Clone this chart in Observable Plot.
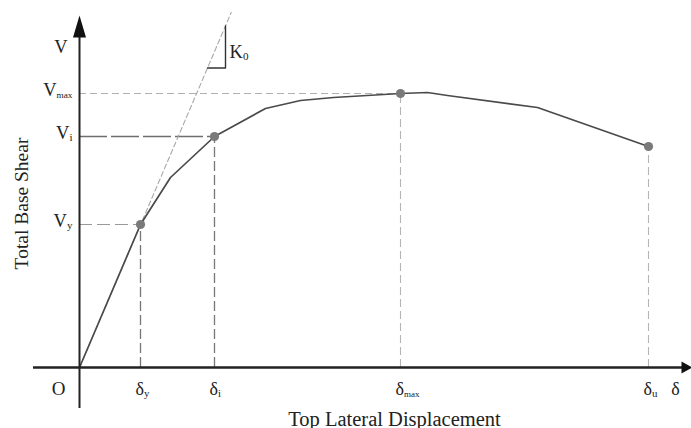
<!DOCTYPE html>
<html>
<head>
<meta charset="utf-8">
<script src="https://cdn.jsdelivr.net/npm/d3@7"></script>
<script src="https://cdn.jsdelivr.net/npm/@observablehq/plot@0.6"></script>
<style>
  html, body { margin: 0; padding: 0; background: #fff; }
  #chart svg { display: block; }
</style>
</head>
<body>
<div id="chart"></div>
<script>
// Capacity (pushover) curve: top lateral displacement vs total base shear (arbitrary units)
const delta = [0, 6.1, 9.1, 13.5, 18.6, 22.1, 25.4, 32.1, 34.8, 36.8, 45.8, 56.9];
const shear = [0, 14.3, 19.0, 23.1, 25.9, 26.7, 27.0, 27.4, 27.5, 27.2, 26.0, 22.1];

// Characteristic points
const keyNames = ["y", "i", "max", "u"];
const keyDelta = [6.1, 13.5, 32.1, 56.9];
const keyShear = [14.3, 23.1, 27.4, 22.1];

// Initial stiffness
const K0 = 2.34;

// Axis labels
const xTitle = "Top Lateral Displacement";
const yTitle = "Total Base Shear";

const curve = delta.map((d, i) => ({d, v: shear[i]}));
const keys = keyNames.map((n, i) => ({n, d: keyDelta[i], v: keyShear[i]}));
const byName = Object.fromEntries(keys.map(k => [k.n, k]));

const font = "Liberation Serif, Times New Roman, serif";
const ink = "#222";

const xMin = -4.6, xMax = 61.2, yMin = -6.1, yMax = 35.5;
const kTop = yMax;

const headShape = {
  draw(ctx, l, r) {
    ctx.moveTo(0, -l);
    ctx.lineTo(r, 0);
    ctx.lineTo(-r, 0);
    ctx.closePath();
  }
};

const chart = Plot.plot({
  width: 691,
  height: 428,
  marginLeft: 33,
  marginRight: 0,
  marginTop: 12,
  marginBottom: 0,
  x: {domain: [xMin, xMax], axis: null},
  y: {domain: [yMin, yMax], axis: null},
  style: {fontFamily: font, background: "#fff"},
  marks: [
    // horizontal guide lines
    Plot.ruleY([byName.y], {y: "v", x1: 0, x2: "d", stroke: "#9a9a9a", strokeWidth: 1.2, strokeDasharray: "13,5"}),
    Plot.ruleY([byName.max], {y: "v", x1: 0, x2: "d", stroke: "#b0b0b0", strokeWidth: 1.1, strokeDasharray: "7,4"}),
    Plot.ruleY([byName.i], {y: "v", x1: 0, x2: "d", stroke: "#6e6e6e", strokeWidth: 1.6, strokeDasharray: "28,4"}),
    // vertical guide lines
    Plot.ruleX([byName.y, byName.i], {x: "d", y1: 0, y2: "v", stroke: "#777", strokeWidth: 1.3, strokeDasharray: "10,4"}),
    Plot.ruleX([byName.max, byName.u], {x: "d", y1: 0, y2: "v", stroke: "#b5b5b5", strokeWidth: 1.1, strokeDasharray: "8,4"}),
    // initial stiffness line
    Plot.line([[0, 0], [kTop / K0, kTop]], {stroke: "#a8a8a8", strokeWidth: 1.1, strokeDasharray: "5,3"}),
    // stiffness triangle
    Plot.line([[12.8, 12.8 * K0], [14.6, 12.8 * K0], [14.6, 14.6 * K0]], {stroke: "#333", strokeWidth: 1.4}),
    // capacity curve
    Plot.line(curve, {x: "d", y: "v", stroke: "#4a4a4a", strokeWidth: 1.7}),
    Plot.dot(keys, {x: "d", y: "v", r: 4.6, fill: "#7a7a7a", stroke: "none"}),
    // axes
    Plot.ruleY([0], {x1: xMin, x2: 60.3, stroke: ink, strokeWidth: 2.4}),
    Plot.ruleX([0], {y1: -4.1, y2: 33.2, stroke: ink, strokeWidth: 2}),
    Plot.vector([{x: 0, y: 33.0}], {x: "x", y: "y", length: 22, r: 6.5, anchor: "start", shape: headShape, fill: "#111", stroke: "none"}),
    Plot.vector([{x: 60.2, y: 0}], {x: "x", y: "y", length: 11, r: 6, rotate: 90, anchor: "start", shape: headShape, fill: "#111", stroke: "none"}),
    // y-value labels
    Plot.text(keys.filter(k => k.n !== "u"), {x: -0.7, y: "v", text: k => "V_" + k.n, textAnchor: "end", lineAnchor: "bottom", fontSize: 18.5, fill: ink, dy: 2}),
    Plot.text(["V"], {x: -1.2, y: 31.7, text: d => d, textAnchor: "end", lineAnchor: "bottom", fontSize: 18.5, fill: ink, dy: 2}),
    // x-value labels
    Plot.text(keys, {x: "d", y: -2.5, text: k => "δ_" + k.n, textAnchor: "start", lineAnchor: "bottom", fontSize: 18, fill: ink, dx: -5, dy: 2}),
    Plot.text(["δ"], {x: 59.6, y: -2.5, text: d => d, textAnchor: "middle", lineAnchor: "bottom", fontSize: 18, fill: ink, dy: 2}),
    Plot.text(["O"], {x: -2.1, y: -2.5, text: d => d, textAnchor: "middle", lineAnchor: "bottom", fontSize: 19, fill: ink, dy: 2}),
    Plot.text(["K_0"], {x: 15.0, y: 31.2, text: d => d, textAnchor: "start", lineAnchor: "bottom", fontSize: 18.5, fill: ink, dy: 2}),
    // titles
    Plot.text([xTitle], {x: 31.5, y: -5.6, text: d => d, textAnchor: "middle", lineAnchor: "bottom", fontSize: 20.5, fill: ink, dy: 2}),
    Plot.text([yTitle], {x: -5.2, y: 16.4, text: d => d, textAnchor: "middle", lineAnchor: "bottom", rotate: -90, fontSize: 19.5, fill: ink})
  ]
});

// Turn "X_sub" labels into text with a subscript tspan
chart.querySelectorAll("text").forEach(t => {
  const s = t.textContent;
  const i = s.indexOf("_");
  if (i < 0) return;
  const main = s.slice(0, i), sub = s.slice(i + 1);
  t.textContent = main;
  const ts = document.createElementNS("http://www.w3.org/2000/svg", "tspan");
  ts.setAttribute("font-size", sub.length > 1 ? "0.5em" : "0.6em");
  ts.setAttribute("dy", "0.25em");
  ts.textContent = sub;
  t.appendChild(ts);
});

document.getElementById("chart").appendChild(chart);
</script>
</body>
</html>
